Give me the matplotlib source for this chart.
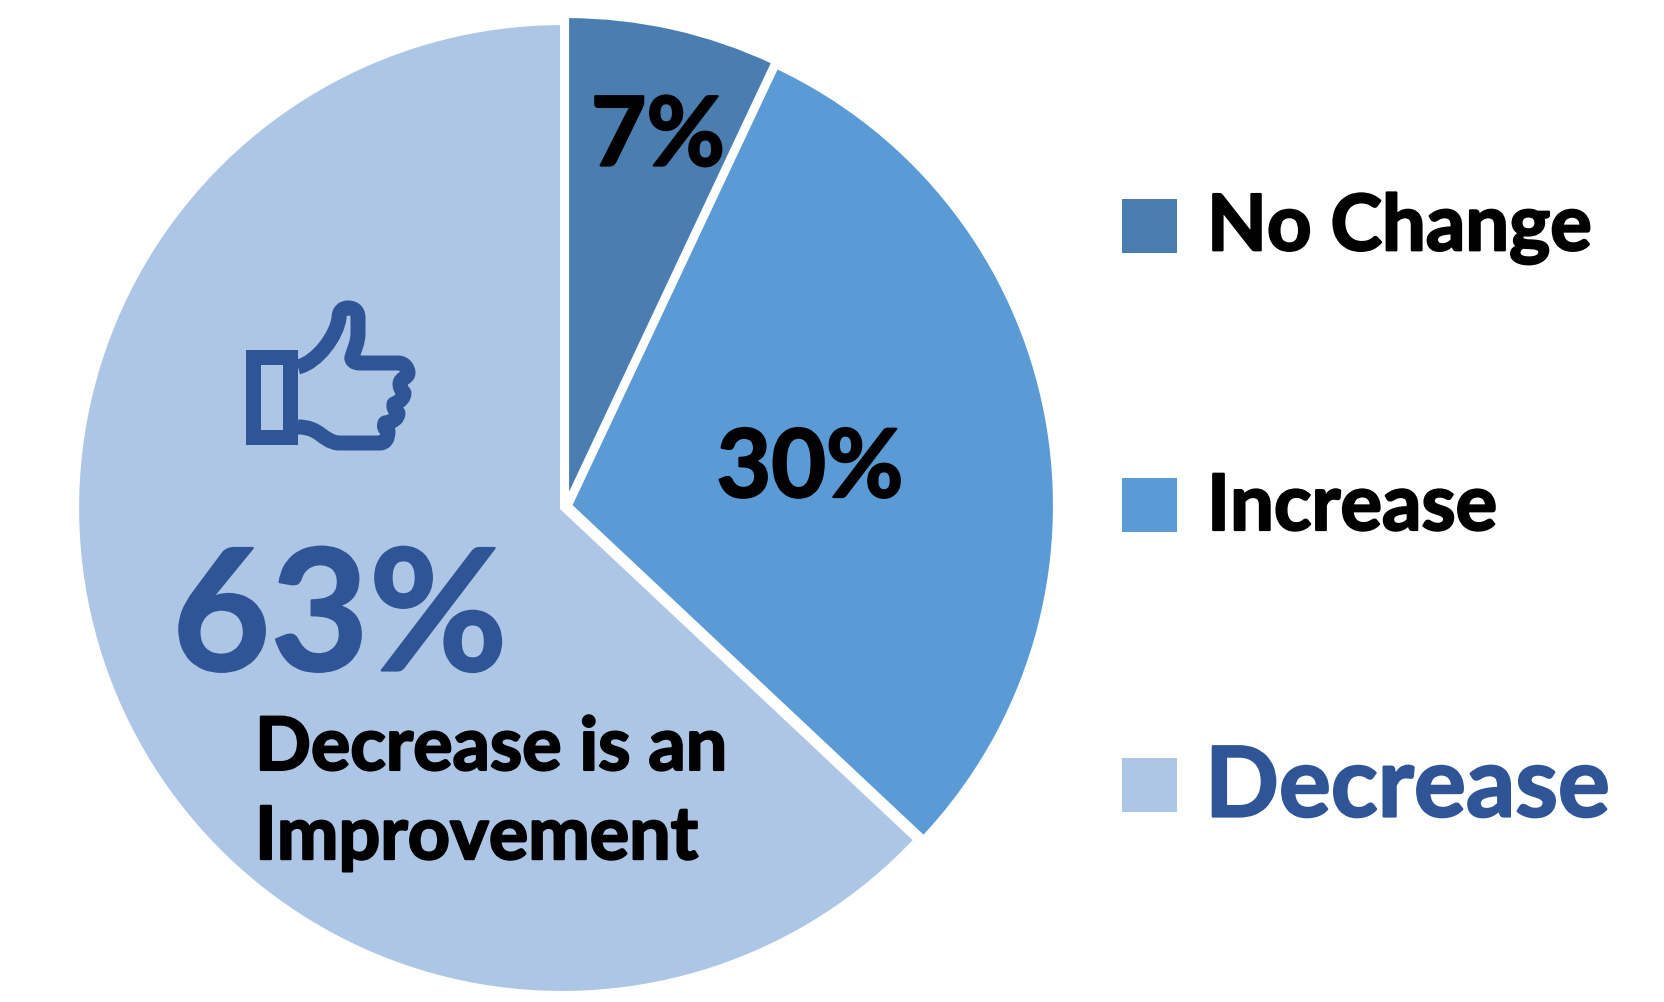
import matplotlib
matplotlib.use('Agg')
import matplotlib.pyplot as plt
import matplotlib.patheffects as pe
from matplotlib.patches import Rectangle, PathPatch
from matplotlib.path import Path

# Share of responses per category
categories = ['No Change', 'Increase', 'Decrease']
values = [7, 30, 63]
colors = ['#4A7EB0', '#5B9BD5', '#ADC6E6']
dark_blue = '#2F5597'

plt.rcParams['font.family'] = ['Lato', 'DejaVu Sans']

fig = plt.figure(figsize=(16.65, 10.02), dpi=100)

# Pixel coordinates make the layout easy to adjust
ax = fig.add_axes([0, 0, 1, 1])

# Pie, clockwise from 12 o'clock (the y axis is flipped, so angles run clockwise)
ax.pie(values, colors=colors, startangle=270, counterclock=True,
       center=(565.8, 506.4), radius=485, explode=[5.5, 4.3, 4.1],
       wedgeprops={'edgecolor': 'white', 'linewidth': 3},
       frame=True)
ax.set_xlim(0, 1665)
ax.set_ylim(1002, 0)
ax.set_aspect('equal')
ax.axis('off')


def bold_text(x, y, s, size, color='black', **kw):
    # Lato Bold runs a little light, so thicken it with a thin stroke
    t = ax.text(x, y, s, fontsize=size, fontweight='bold', color=color, va='center', **kw)
    t.set_path_effects([pe.withStroke(linewidth=1.6, foreground=color)])
    return t


# Data labels
bold_text(658, 138, '7%', 69, ha='center')
bold_text(810, 470, '30%', 68, ha='center')
bold_text(340, 622, '63%', 122, color=dark_blue, ha='center')
bold_text(255, 793, 'Decrease is an\nImprovement', 53, ha='left', linespacing=1.36)

# Legend
legend_y = [226, 505, 785]
legend_text_x = [1207, 1207, 1205]
legend_size = [56, 56, 70]
legend_color = ['black', 'black', dark_blue]
for name, col, y, tx, size, tcol in zip(categories, colors, legend_y, legend_text_x, legend_size, legend_color):
    ax.add_patch(Rectangle((1122, y - 27), 55, 54, facecolor=col, edgecolor='none'))
    bold_text(tx, y + 3, name, size, color=tcol, ha='left')

# Thumbs-up icon: cuff
ax.add_patch(Rectangle((253, 357), 37, 80, facecolor='none', edgecolor=dark_blue,
                       linewidth=10.8, joinstyle='miter'))

# Thumbs-up icon: hand outline
M, L, C3, C4 = Path.MOVETO, Path.LINETO, Path.CURVE3, Path.CURVE4
hand = [
    ((298, 367), M),
    ((318, 362), C4), ((337, 335), C4), ((339, 318), C4),
    ((339, 311), C4), ((343, 308), C4), ((348, 308), C4),
    ((354, 308), C4), ((358, 311), C4), ((358, 318), C4),
    ((358, 333), L),
    ((358, 343), C4), ((354, 350), C4), ((352, 357), C4),
    ((351, 360), C4), ((354, 363), C4), ((360, 363), C4),
    ((398, 363), L),
    ((404, 363), C4), ((408, 368), C4), ((408, 373), C4),
    ((408, 378), C4), ((400, 378), C4), ((400, 384), C4),
    ((400, 389), C3), ((404, 393), C3),
    ((404, 400), C3), ((394, 404), C3),
    ((393, 409), C3), ((398, 413), C3),
    ((398, 421), C3), ((385, 423), C3),
    ((383, 428), C3), ((388, 431), C3),
    ((388, 443), C3), ((380, 443), C3),
    ((338, 443), L),
    ((322, 441), C4), ((320, 427), C4), ((298, 427), C4),
]
verts = [p for p, _ in hand]
codes = [c for _, c in hand]
ax.add_patch(PathPatch(Path(verts, codes), facecolor='none', edgecolor=dark_blue,
                       linewidth=10.8, joinstyle='round', capstyle='butt'))

fig.savefig('out.png', dpi=100)
